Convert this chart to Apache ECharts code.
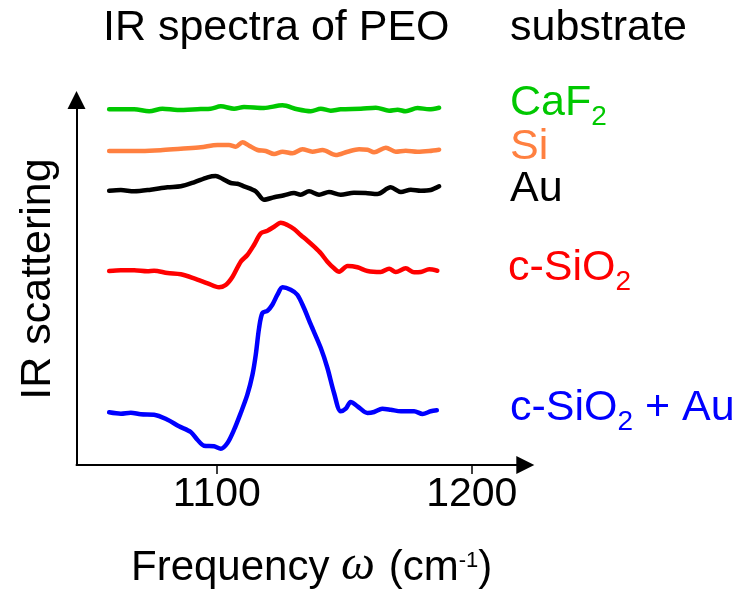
<!DOCTYPE html>
<html>
<head>
<meta charset="utf-8">
<script src="https://cdn.jsdelivr.net/npm/echarts@6/dist/echarts.min.js"></script>
<style>
  html, body { margin: 0; padding: 0; background: #fff; }
  #chart { width: 737px; height: 590px; }
</style>
</head>
<body>
<div id="chart"></div>
<script>
// IR scattering spectra of PEO on different substrates (arbitrary units, stacked)
const freqCaF2 = [1057.8, 1067.6, 1073.5, 1078.7, 1084.6, 1093.7, 1097.6, 1101.6, 1106.8, 1110.7, 1118.5, 1125.8, 1131.6, 1136.9, 1140.8, 1144.7, 1148.6, 1156.5, 1162.4, 1167.6, 1170.9, 1174.1, 1178.7, 1183.3, 1187.2];
const irCaF2   = [355.7, 355.7, 353.7, 356.3, 355.0, 356.0, 356.3, 358.7, 356.3, 358.0, 357.0, 359.7, 355.7, 353.7, 356.3, 354.3, 355.7, 356.3, 357.3, 354.3, 355.3, 353.7, 357.0, 355.7, 357.3];

const freqSi = [1057.8, 1070.2, 1078.0, 1085.9, 1093.7, 1100.3, 1104.8, 1107.5, 1110.1, 1112.7, 1116.0, 1119.2, 1122.5, 1125.8, 1129.7, 1133.6, 1137.5, 1141.5, 1146.7, 1151.3, 1155.8, 1159.1, 1161.7, 1166.3, 1170.2, 1174.1, 1178.7, 1183.3, 1187.2];
const irSi   = [314.0, 314.0, 314.7, 316.3, 317.7, 320.0, 320.0, 318.3, 322.7, 319.3, 315.0, 314.0, 311.0, 313.3, 311.7, 315.7, 313.3, 315.0, 310.0, 313.3, 315.7, 315.3, 312.7, 317.3, 313.3, 314.3, 313.3, 314.0, 315.3];

const freqAu = [1057.8, 1062.4, 1067.6, 1074.1, 1080.7, 1085.9, 1091.1, 1096.4, 1099.6, 1102.2, 1105.5, 1108.1, 1110.7, 1115.3, 1118.5, 1122.5, 1126.4, 1130.3, 1132.9, 1136.2, 1140.1, 1144.0, 1148.6, 1153.8, 1158.4, 1163.0, 1168.2, 1172.2, 1176.1, 1180.0, 1183.9, 1187.2];
const irAu   = [274.3, 275.0, 273.7, 275.3, 277.7, 278.7, 282.7, 287.7, 289.0, 286.3, 282.0, 281.3, 278.7, 273.7, 265.3, 267.7, 269.7, 272.0, 270.3, 273.7, 270.3, 273.0, 270.3, 272.3, 272.0, 271.0, 277.7, 273.0, 275.3, 274.3, 275.0, 278.7];

const freqSiO2 = [1057.8, 1062.4, 1067.6, 1072.8, 1075.4, 1080.7, 1085.9, 1091.1, 1096.4, 1100.9, 1103.5, 1106.2, 1109.4, 1112.0, 1114.6, 1117.3, 1119.9, 1122.5, 1125.1, 1127.7, 1130.3, 1132.9, 1135.6, 1138.2, 1140.8, 1143.4, 1146.0, 1148.0, 1151.3, 1155.2, 1159.1, 1164.3, 1167.6, 1170.2, 1174.1, 1177.4, 1180.0, 1183.3, 1186.5];
const irSiO2   = [194.0, 194.7, 194.7, 193.7, 194.3, 192.0, 190.7, 186.7, 181.7, 177.7, 180.0, 188.3, 203.3, 210.0, 220.0, 231.7, 234.3, 238.3, 242.3, 240.0, 236.0, 230.0, 224.3, 218.3, 211.7, 203.3, 196.7, 193.3, 199.0, 197.7, 194.0, 193.0, 196.3, 193.0, 196.7, 192.7, 193.0, 195.7, 194.3];

const freqSiO2Au = [1057.8, 1062.4, 1066.3, 1070.2, 1075.4, 1080.7, 1085.2, 1089.8, 1092.4, 1095.0, 1098.9, 1101.6, 1104.2, 1106.8, 1109.4, 1112.0, 1114.0, 1115.3, 1116.6, 1117.9, 1119.9, 1121.8, 1123.8, 1125.8, 1129.0, 1131.6, 1134.2, 1136.9, 1140.8, 1143.4, 1146.0, 1148.6, 1150.6, 1152.5, 1155.2, 1159.1, 1161.7, 1164.9, 1168.2, 1172.2, 1177.4, 1180.7, 1183.9, 1186.3];
const irSiO2Au   = [52.7, 51.3, 52.3, 50.7, 50.3, 45.3, 38.7, 33.0, 25.3, 19.3, 18.7, 16.3, 22.0, 35.3, 52.0, 70.3, 90.3, 110.3, 137.0, 152.0, 154.3, 160.3, 170.3, 177.7, 175.3, 170.3, 157.0, 140.3, 117.0, 97.0, 72.0, 53.7, 56.3, 63.0, 58.7, 52.0, 53.0, 56.3, 55.3, 53.7, 53.7, 51.0, 53.7, 54.7];

const xTicks = [1100, 1200];

const COLORS = {
  caf2: '#00c800',
  si: '#ff8040',
  au: '#000000',
  sio2: '#ff0000',
  sio2au: '#0000ff'
};

const SANS = '"Liberation Sans", Arial, Helvetica, sans-serif';
const SERIF = '"Liberation Serif", "Times New Roman", serif';

const measureCtx = document.createElement('canvas').getContext('2d');
function fontString(p) {
  return (p.style || 'normal') + ' normal ' + p.size + 'px ' + (p.family || SANS);
}
function textWidth(p) {
  measureCtx.font = fontString(p);
  return measureCtx.measureText(p.t).width;
}

// Lay out a run of text pieces (with sub/superscripts) along a baseline.
function textRun(x, baseline, parts, color) {
  const els = [];
  let cx = x;
  parts.forEach(function (p) {
    const asc = (p.family === SERIF) ? 0.3375 : 0.3465;
    els.push({
      type: 'text',
      x: cx,
      y: baseline + (p.dy || 0) - asc * p.size,
      silent: true,
      style: {
        text: p.t,
        font: fontString(p),
        fill: color,
        align: 'left',
        verticalAlign: 'middle'
      }
    });
    cx += textWidth(p) + (p.after || 0);
  });
  return els;
}

function zip(xs, ys) {
  return xs.map(function (x, i) { return [x, ys[i]]; });
}

function lineSeries(name, xs, ys, color) {
  return {
    name: name,
    type: 'line',
    data: zip(xs, ys),
    showSymbol: false,
    smooth: 0.3,
    silent: true,
    lineStyle: { color: color, width: 4.5, cap: 'round', join: 'round' },
    itemStyle: { color: color }
  };
}

const graphics = [].concat(
  textRun(103, 43.3, [{ t: 'IR spectra of PEO', size: 43 }], '#000'),
  textRun(510, 43.3, [{ t: 'substrate', size: 43 }], '#000'),
  textRun(510, 118.3, [{ t: 'CaF', size: 43 }, { t: '2', size: 28, dy: 9 }], COLORS.caf2),
  textRun(510, 162.3, [{ t: 'Si', size: 43 }], COLORS.si),
  textRun(510, 204, [{ t: 'Au', size: 43 }], COLORS.au),
  textRun(508, 283, [{ t: 'c-SiO', size: 43 }, { t: '2', size: 28, dy: 9 }], COLORS.sio2),
  textRun(510, 423.3, [{ t: 'c-SiO', size: 43 }, { t: '2', size: 28, dy: 9 }, { t: ' + Au', size: 43 }], COLORS.sio2au),
  textRun(131, 582.7, [
    { t: 'Frequency ', size: 42 },
    { t: '\u03c9', size: 48, family: SERIF, style: 'italic', after: 2 },
    { t: ' (cm', size: 42 },
    { t: '-1', size: 22, dy: -14.4 },
    { t: ')', size: 42 }
  ], '#000'),
  [{
    type: 'text',
    x: 38,
    y: 279,
    rotation: Math.PI / 2,
    silent: true,
    style: {
      text: 'IR scattering',
      font: 'normal normal 43px ' + SANS,
      fill: '#000',
      align: 'center',
      verticalAlign: 'middle'
    }
  }]
);

const chart = echarts.init(document.getElementById('chart'), null, { renderer: 'canvas' });
chart.setOption({
  backgroundColor: '#ffffff',
  animation: false,
  grid: { left: 76.5, top: 100, width: (1221 - 1045) * 2.55, height: 365 },
  xAxis: {
    type: 'value',
    min: 1045,
    max: 1221,
    axisLine: {
      show: true,
      symbol: ['none', 'triangle'],
      symbolSize: [18, 18],
      lineStyle: { color: '#000', width: 2 }
    },
    axisTick: {
      show: true,
      customValues: xTicks,
      length: 9,
      lineStyle: { color: '#000', width: 1.5 }
    },
    axisLabel: {
      show: true,
      customValues: xTicks,
      formatter: function (v) { return String(v); },
      color: '#000',
      fontSize: 41,
      fontFamily: SANS,
      margin: 9
    },
    splitLine: { show: false }
  },
  yAxis: {
    type: 'value',
    min: 0,
    max: 365,
    axisLine: {
      show: true,
      symbol: ['none', 'triangle'],
      symbolSize: [18, 18],
      lineStyle: { color: '#000', width: 2 }
    },
    axisTick: { show: false },
    axisLabel: { show: false },
    splitLine: { show: false }
  },
  series: [
    lineSeries('CaF2', freqCaF2, irCaF2, COLORS.caf2),
    lineSeries('Si', freqSi, irSi, COLORS.si),
    lineSeries('Au', freqAu, irAu, COLORS.au),
    lineSeries('c-SiO2', freqSiO2, irSiO2, COLORS.sio2),
    lineSeries('c-SiO2 + Au', freqSiO2Au, irSiO2Au, COLORS.sio2au)
  ],
  graphic: { elements: graphics }
});
</script>
</body>
</html>
